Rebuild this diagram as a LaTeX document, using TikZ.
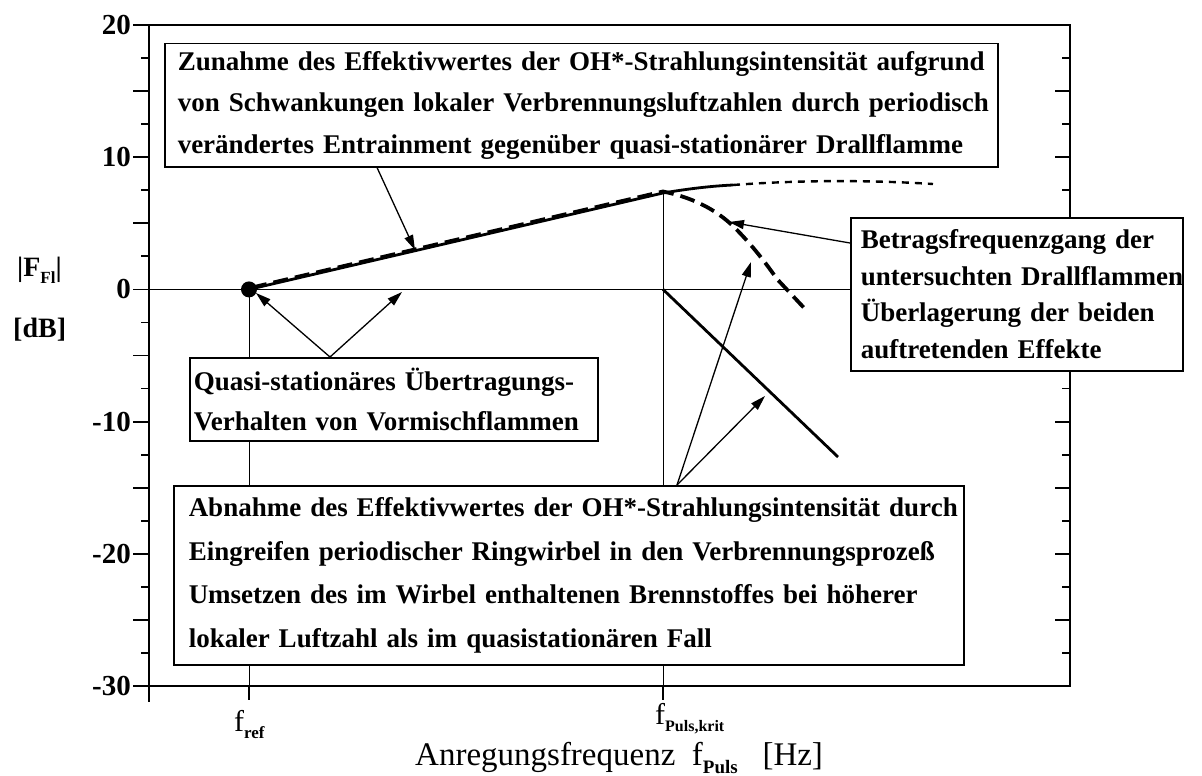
\documentclass[tikz,border=0pt]{standalone}
\usepackage{fontspec}
\setmainfont{Liberation Serif}
\usetikzlibrary{arrows.meta}
\newcommand{\lowsub}[2]{\raisebox{-0.25em}{\fontsize{#1}{#1}\selectfont\bfseries #2}}
\begin{document}
\begin{tikzpicture}[x=1pt,y=-1pt,
  axisline/.style={line width=1.8pt},
  guide/.style={line width=1pt},
  solidcurve/.style={line width=2.8pt},
  dashcurve/.style={line width=3.8pt, dash pattern=on 15pt off 7pt},
  dotcurve/.style={line width=2.4pt, dash pattern=on 7pt off 6pt},
  pointer/.style={line width=1.3pt, -{Triangle[length=15pt,width=9pt]}},
  txtbox/.style={draw, line width=1.5pt, fill=white, anchor=north west, inner ysep=0pt, align=left},
  ticklabel/.style={font=\fontsize{29}{29}\selectfont\bfseries, anchor=east, inner sep=0pt},
  axlabel/.style={font=\fontsize{28}{28}\selectfont\bfseries, inner sep=0pt},
  xlabel/.style={font=\fontsize{30}{30}\selectfont, inner sep=0pt, anchor=base west}
]
\useasboundingbox (0,0) rectangle (1202,776);
% frame
\draw[axisline] (149,25) rectangle (1070,686);
\draw[axisline] (149,686) -- (149,702);
% left ticks
\foreach \y in {25,91.1,157.2,223.3,289.4,355.5,421.6,487.7,553.8,619.9,686}
  \draw[axisline] (133,\y) -- (149,\y);
\foreach \y in {58.05,124.15,190.25,256.35,322.45,388.55,454.65,520.75,586.85,652.95}
  \draw[axisline] (141,\y) -- (149,\y);
% right ticks
\foreach \y in {25,91.1,157.2,223.3,289.4,355.5,421.6,487.7,553.8,619.9,686}
  \draw[axisline] (1055,\y) -- (1070,\y);
\foreach \y in {58.05,124.15,190.25,256.35,322.45,388.55,454.65,520.75,586.85,652.95}
  \draw[axisline] (1062,\y) -- (1070,\y);
% tick labels
\node[ticklabel] (t20) at (131,25) {20};
\node[ticklabel] (t10) at (131,157.2) {10};
\node[ticklabel] (t0) at (131,289.4) {0};
\node[ticklabel] (tm10) at (131,421.6) {-10};
\node[ticklabel] (tm20) at (131,553.8) {-20};
\node[ticklabel] (tm30) at (131,686) {-30};
% axis labels
\node[axlabel, anchor=base west] (yl1) at (17,276) {|F\lowsub{17}{Fl}|};
\node[axlabel, anchor=base west] (yl2) at (13,337) {[dB]};
% x ticks and labels
\draw[axisline] (249,686) -- (249,700);
\draw[axisline] (663,686) -- (663,700);
\node[xlabel] (fref) at (234,731) {f\lowsub{17}{ref}};
\node[xlabel] (fkrit) at (655,724) {f\lowsub{16}{Puls,krit}};
\node[xlabel, font=\fontsize{33}{33}\selectfont] (xtitle) at (415,765) {Anregungsfrequenz\ \ f\lowsub{19}{Puls}\ \ \ [Hz]};
% coordinates
\coordinate (pref) at (249,289.4);
\coordinate (pkrit) at (663,193);
\coordinate (pzero) at (663,289.4);
\coordinate (pflat) at (733,185);
\coordinate (pdotend) at (933,184);
\coordinate (pfallend) at (838,457);
\coordinate (pdashend) at (806,310);
% guide lines
\draw[guide] (pref) -- (249,686);
\draw[guide] (pkrit) -- (663,686);
% zero line
\draw[axisline] (149,289.4) -- (1070,289.4);
% falling solid line
\draw[solidcurve] (pzero) -- (pfallend);
% rising solid line and flattening
\draw[solidcurve] (pref) -- (pkrit) .. controls (690,188.5) and (712,186) .. (pflat);
\draw[dotcurve] (pflat) .. controls (800,180) and (870,180) .. (pdotend);
% combined dashed
\draw[dashcurve] (252,287.5) -- (663,191.5) .. controls (690,197) and (715,208) .. (735,228)
   .. controls (752,245) and (765,262) .. (777,279) -- (pdashend);
% dot at f_ref
\fill (pref) circle (8pt);
% boxes
\node[txtbox, minimum width=833pt, minimum height=123pt, text width=807pt, inner xsep=13pt,
  font=\fontsize{27}{41.5}\selectfont\bfseries] (zun) at (164,43)
  {\mbox{Zunahme des Effektivwertes der OH*-Strahlungsintensität aufgrund}\\
   \mbox{von Schwankungen lokaler Verbrennungsluftzahlen durch periodisch}\\
   \mbox{verändertes Entrainment gegenüber quasi-stationärer Drallflamme}};
\node[txtbox, minimum width=332pt, minimum height=153pt, text width=312pt, inner xsep=10pt,
  font=\fontsize{27}{36.5}\selectfont\bfseries] (betr) at (850,217)
  {\mbox{Betragsfrequenzgang der}\\
   \mbox{untersuchten Drallflammen}\\
   \mbox{Überlagerung der beiden}\\
   \mbox{auftretenden Effekte}};
\node[txtbox, minimum width=408pt, minimum height=83pt, text width=400pt, inner xsep=4pt,
  font=\fontsize{27}{40}\selectfont\bfseries] (quasi) at (189,357)
  {\mbox{Quasi-stationäres Übertragungs-}\\
   \mbox{Verhalten von Vormischflammen}};
\node[txtbox, minimum width=790pt, minimum height=179pt, text width=760pt, inner xsep=15pt,
  font=\fontsize{27}{43.5}\selectfont\bfseries] (abn) at (173,485)
  {\mbox{Abnahme des Effektivwertes der OH*-Strahlungsintensität durch}\\
   \mbox{Eingreifen periodischer Ringwirbel in den Verbrennungsprozeß}\\
   \mbox{Umsetzen des im Wirbel enthaltenen Brennstoffes bei höherer}\\
   \mbox{lokaler Luftzahl als im quasistationären Fall}};
% pointer targets and sources
\coordinate (zsrc) at (zun.south -| 377,0);
\coordinate (ztgt) at (415,250);
\coordinate (qsrc) at (quasi.north -| 330,0);
\coordinate (qtgt1) at (256,293);
\coordinate (qtgt2) at (402,292);
\coordinate (bsrc) at (betr.west |- 0,243);
\coordinate (btgt) at (729,222);
\coordinate (asrc) at (abn.north -| 677,0);
\coordinate (atgt1) at (751,262);
\coordinate (atgt2) at (765,396);
\draw[pointer] (zsrc) -- (ztgt);
\draw[pointer] (qsrc) -- (qtgt1);
\draw[pointer] (qsrc) -- (qtgt2);
\draw[pointer] (bsrc) -- (btgt);
\draw[pointer] (asrc) -- (atgt1);
\draw[pointer] (asrc) -- (atgt2);
\end{tikzpicture}
\end{document}
